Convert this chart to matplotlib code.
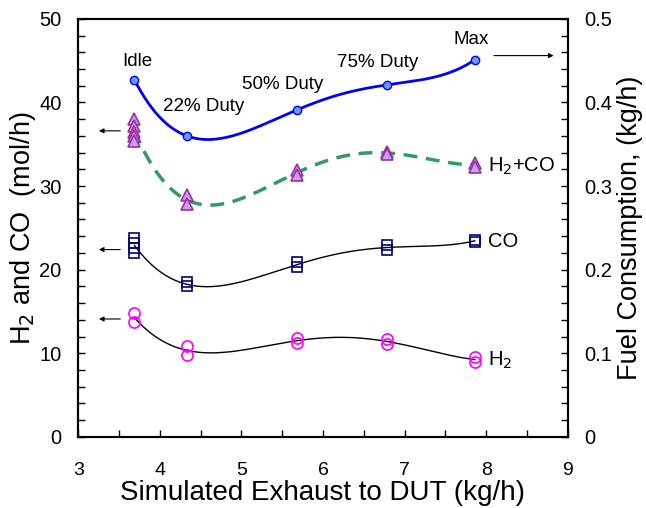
import numpy as np
import matplotlib
matplotlib.use("Agg")
import matplotlib.pyplot as plt
from matplotlib.ticker import MultipleLocator

plt.rcParams['font.family'] = ['Liberation Sans', 'DejaVu Sans']

# operating points (simulated exhaust, kg/h)
x_pts = [3.69, 4.33, 5.68, 6.79, 7.86]
duty_labels = ['Idle', '22% Duty', '50% Duty', '75% Duty', 'Max']

# fuel consumption (kg/h), right axis
fuel = [0.427, 0.360, 0.391, 0.421, 0.451]

# repeated measurements (mol/h) at each operating point
h2co_x = [3.69, 3.69, 3.69, 3.69, 3.69, 4.33, 4.33, 5.68, 5.68, 6.79, 6.79, 7.86, 7.86]
h2co = [38.0, 37.2, 36.5, 36.0, 35.4, 28.9, 27.8, 31.9, 31.3, 34.1, 33.8, 32.8, 32.3]
co_x = [3.69, 3.69, 3.69, 3.69, 4.33, 4.33, 5.68, 5.68, 6.79, 6.79, 7.86, 7.86]
co = [23.8, 23.2, 22.6, 22.0, 18.5, 18.0, 20.9, 20.3, 23.0, 22.3, 23.6, 23.3]
h2_x = [3.69, 3.69, 4.33, 4.33, 5.68, 5.68, 6.79, 6.79, 7.86, 7.86]
h2 = [14.8, 13.7, 10.9, 9.8, 11.8, 11.2, 11.7, 11.1, 9.6, 8.9]

fig = plt.figure(figsize=(6.46, 5.08), dpi=100)
ax = fig.add_axes([0.121, 0.14, 0.758, 0.823])
ax2 = ax.twinx()

xs = np.linspace(3.69, 7.86, 200)

# polynomial trend lines
p = np.polyfit(h2co_x, h2co, 4)
ax.plot(xs, np.polyval(p, xs), color='#339966', lw=2.5, ls=(0, (4, 2.5)), zorder=2)
ax.plot(h2co_x, h2co, ls='none', marker='^', ms=8, mfc='#cc99ff', mec='#993399', mew=1.2, zorder=3)

p = np.polyfit(co_x, co, 4)
ax.plot(xs, np.polyval(p, xs), color='black', lw=1, zorder=2)
ax.plot(co_x, co, ls='none', marker='s', ms=7, mfc='none', mec='#000080', mew=1.2, zorder=3)

p = np.polyfit(h2_x, h2, 4)
ax.plot(xs, np.polyval(p, xs), color='black', lw=1, zorder=2)
ax.plot(h2_x, h2, ls='none', marker='o', ms=8, mfc='none', mec='#ff00ff', mew=1.2, zorder=3)

p = np.polyfit(x_pts, fuel, 4)
ax2.plot(xs, np.polyval(p, xs), color='#0000ff', lw=2, zorder=2)
ax2.plot(x_pts, fuel, ls='none', marker='o', ms=6, mfc='#6699ff', mec='#0000ff', mew=1, zorder=3)

# duty labels
label_pos = [(3.72, 44.9), (4.54, 39.5), (5.50, 42.1), (6.67, 44.8), (7.81, 47.5)]
for lab, (lx, ly) in zip(duty_labels, label_pos):
    ax.text(lx, ly, lab, ha='center', va='center', fontsize=13.5)

# series labels
ax.text(8.02, 32.3, 'H$_2$+CO', ha='left', va='center', fontsize=14.5)
ax.text(8.02, 23.4, 'CO', ha='left', va='center', fontsize=14.5)
ax.text(8.02, 9.2, 'H$_2$', ha='left', va='center', fontsize=14.5)

# axis pointer arrows
arrow = dict(arrowstyle='-|>', color='black', lw=0.8, mutation_scale=7)
for ay in [36.6, 22.4, 14.1]:
    ax.annotate('', xy=(3.22, ay), xytext=(3.55, ay), arrowprops=arrow)
ax.annotate('', xy=(8.86, 45.6), xytext=(8.06, 45.6), arrowprops=arrow)

ax.set_xlim(3, 9)
ax.set_ylim(0, 50)
ax2.set_ylim(0, 0.5)
ax.xaxis.set_major_locator(MultipleLocator(1))
ax.xaxis.set_minor_locator(MultipleLocator(0.5))
ax.yaxis.set_major_locator(MultipleLocator(10))
ax.yaxis.set_minor_locator(MultipleLocator(2))
ax2.yaxis.set_minor_locator(MultipleLocator(0.02))
ax2.set_yticks([0, 0.1, 0.2, 0.3, 0.4, 0.5])
ax2.set_yticklabels(['0', '0.1', '0.2', '0.3', '0.4', '0.5'])

for a in (ax, ax2):
    for s in a.spines.values():
        s.set_linewidth(1.5)
ax.tick_params(axis='both', which='both', direction='in', labelsize=14.5, width=1, length=5)
ax.tick_params(axis='x', labelsize=14, pad=18)
ax.tick_params(axis='y', pad=12)
ax2.tick_params(axis='y', which='both', direction='in', labelsize=14.5, width=1, length=5, pad=12)

ax.set_xlabel('Simulated Exhaust to DUT (kg/h)', fontsize=20, labelpad=1)
ax.set_ylabel('H$_2$ and CO  (mol/h)', fontsize=19.5, labelpad=1)
ax2.set_ylabel('Fuel Consumption, (kg/h)', fontsize=19.5, labelpad=3)

fig.savefig('out.png', dpi=100)
